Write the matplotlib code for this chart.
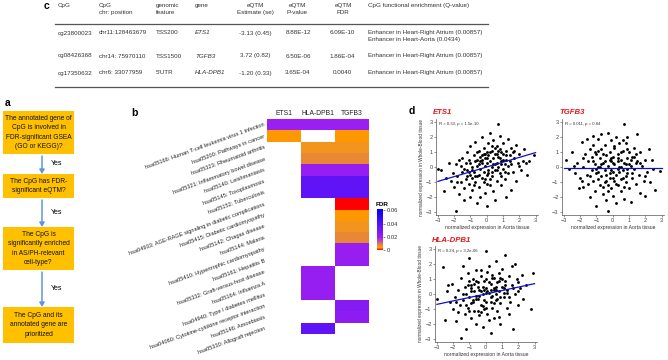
import numpy as np
import matplotlib
matplotlib.use("Agg")
import matplotlib.pyplot as plt
from matplotlib.colors import LinearSegmentedColormap
from matplotlib.patches import Rectangle, FancyArrowPatch

plt.rcParams['font.family'] = ['Liberation Sans', 'DejaVu Sans']

# ---------------- data ----------------
# panel c table
tab_cpg = ["cg23800023", "cg08426368", "cg17350632"]
tab_pos = ["chr11:128463679", "chr14: 75970110", "chr6: 33077959"]
tab_feat = ["TSS200", "TSS1500", "5'UTR"]
tab_gene = ["ETS1", "TGFB3", "HLA-DPB1"]
tab_est = ["-3.13 (0.45)", "3.72 (0.82)", "-1.20 (0.33)"]
tab_p = ["8.88E-12", "6.50E-06", "3.65E-04"]
tab_fdr = ["6.09E-10", "1.86E-04", "0.0040"]
tab_enr = ["Enhancer in Heart-Right Atrium (0.00857)\nEnhancer in Heart-Aorta (0.0434)",
           "Enhancer in Heart-Right Atrium (0.00857)",
           "Enhancer in Heart-Right Atrium (0.00857)"]

# panel a flowchart
flow_steps = ["The annotated gene of\nCpG is involved in\nFDR-significant GSEA\n(GO or KEGG)?",
              "The CpG has FDR-\nsignificant eQTM?",
              "The CpG is\nsignificantly enriched\nin AS/PH-relevant\ncell-type?",
              "The CpG and its\nannotated gene are\nprioritized"]

# panel b heatmap (FDR, nan = not significant)
hm_genes = ["ETS1", "HLA-DPB1", "TGFB3"]
hm_paths = ["hsa05166: Human T-cell leukemia virus 1 infection",
            "hsa05200: Pathways in cancer",
            "hsa05323: Rheumatoid arthritis",
            "hsa05321: Inflammatory bowel disease",
            "hsa05140: Leishmaniasis",
            "hsa05145: Toxoplasmosis",
            "hsa05152: Tuberculosis",
            "hsa04933: AGE-RAGE signaling in diabetic complications",
            "hsa05415: Diabetic cardiomyopathy",
            "hsa05142: Chagas disease",
            "hsa05144: Malaria",
            "hsa05410: Hypertrophic cardiomyopathy",
            "hsa05161: Hepatitis B",
            "hsa05332: Graft-versus-host disease",
            "hsa05164: Influenza A",
            "hsa04940: Type I diabetes mellitus",
            "hsa04060: Cytokine-cytokine receptor interaction",
            "hsa05146: Amoebiasis",
            "hsa05330: Allograft rejection"]
nan = np.nan
hm_ets1 = [0.020, 0.0036, nan, nan, nan, nan, nan, nan, nan, nan, nan, nan, nan, nan, nan, nan, nan, nan, nan]
hm_hla = [0.020, nan, 0.0058, 0.0072, 0.021, 0.036, 0.036, nan, nan, nan, nan, nan, nan,
          0.021, 0.021, 0.021, nan, nan, 0.036]
hm_tgfb3 = [0.020, 0.0036, 0.0058, 0.0072, 0.021, 0.036, 0.036, 0.0002, 0.0036, 0.0058, 0.0072,
            0.021, 0.021, nan, nan, nan, 0.026, 0.024, nan]

# panel d scatter data
ets1_x = [-3.0, -2.6, -2.5, -2.3, -2.2, -2.1, -2.0, -1.9, -1.9, -1.8, -1.7, -1.6, -1.6, -1.5, -1.5, -1.4, -1.4,
          -1.3, -1.3, -1.2, -1.2, -1.1, -1.1, -1.0, -1.0, -1.0, -0.9, -0.9, -0.8, -0.8, -0.7, -0.7, -0.7, -0.6,
          -0.6, -0.5, -0.5, -0.5, -0.4, -0.4, -0.4, -0.3, -0.3, -0.3, -0.2, -0.2, -0.2, -0.1, -0.1, -0.1, 0.0,
          0.0, 0.0, 0.0, 0.1, 0.1, 0.1, 0.2, 0.2, 0.2, 0.3, 0.3, 0.3, 0.4, 0.4, 0.4, 0.5, 0.5, 0.5, 0.6, 0.6,
          0.6, 0.7, 0.7, 0.7, 0.8, 0.8, 0.8, 0.9, 0.9, 1.0, 1.0, 1.0, 1.1, 1.1, 1.2, 1.2, 1.2, 1.3, 1.3, 1.4,
          1.5, 1.5, 1.5, 1.6, 1.7, 1.8, 1.8, 1.9, 2.0, 2.1, 2.2, 2.3, 2.4, 2.5, 2.6, 2.9, -2.8, -1.7, 0.9, 0.2,
          -0.6, 1.6,
          -1.2, -0.9, -0.6, -0.3, 0.0, 0.3, 0.6, 0.9, 1.2, -1.0, -0.7, -0.4, -0.1, 0.2, 0.5, 0.8, 1.1, 1.4,
          -1.4, -0.8, -0.5, -0.2, 0.1, 0.4, 0.7, 1.0, 1.3, -1.1, -0.3, 0.5, 0.0, -0.6, 0.3, 0.9, -0.9, 1.7,
          -1.8, 2.0, 0.6, -0.1]
ets1_y = [-0.1, -1.6, -0.7, 0.3, -0.9, -0.4, -1.3, -2.9, 0.2, -0.6, -1.8, 0.1, -1.0, -0.3, 0.6, -1.4, -2.2,
          0.3, -0.8, -0.2, 1.0, -1.1, 0.5, -0.5, -2.0, 1.4, 0.0, -1.5, 0.8, -0.3, -1.0, 0.4, 1.7, -0.6,
          -2.4, 0.2, 1.1, -1.3, -0.1, 0.7, -2.0, 2.0, -0.7, 0.3, 1.3, -1.0, -0.3, 0.6, -1.7, 0.1, 1.0,
          -0.5, 0.3, -2.6, 1.6, -0.2, 0.8, -1.2, 0.4, 2.3, -0.6, 1.1, 0.0, 0.6, -1.6, 1.8, -0.2, 0.9, -2.2, 0.3, 1.4,
          -0.9, 2.9, 0.0, 0.7, -0.4, 1.2, 2.1, 0.4, -1.2, 0.9, -0.1, 1.6, 0.2, -0.8, -2.0, 1.1, 0.5, -0.4, 1.9, 0.8,
          -1.5, 0.2, 1.3, -0.3, 0.6, 1.5, -0.9, 0.3, 0.9, -0.2, 0.4, 1.2, 0.3, -0.5, 0.4, 0.8, -0.2, 0.5, 1.0, -0.8,
          1.0, 1.0,
          -0.6, -0.2, 0.1, 0.5, 0.6, -0.3, 0.9, 0.2, 0.8, 0.3, -0.6, 0.4, -0.8, 1.0, 0.2, 0.6, -0.3, 0.4,
          -0.1, -1.2, -0.5, 0.9, -0.4, 0.2, 1.1, 0.5, 0.1, -0.3, 0.8, 1.3, -1.1, 0.5, 1.4, -0.6, -0.7, 1.1,
          -1.0, 0.1, -0.2, 0.9]

tgfb3_x = [-2.9, -2.5, -2.7, -2.3, -2.2, -2.1, -2.0, -1.9, -1.8, -1.8, -1.7, -1.6, -1.6, -1.5, -1.5, -1.4, -1.4,
           -1.3, -1.3, -1.2, -1.2, -1.1, -1.1, -1.0, -1.0, -1.0, -0.9, -0.9, -0.8, -0.8, -0.7, -0.7, -0.7, -0.6,
           -0.6, -0.5, -0.5, -0.5, -0.4, -0.4, -0.3, -0.3, -0.3, -0.2, -0.2, -0.1, -0.1, -0.1, 0.0, 0.0, 0.0,
           0.1, 0.1, 0.1, 0.2, 0.2, 0.2, 0.3, 0.3, 0.4, 0.4, 0.5, 0.5, 0.5, 0.6, 0.6, 0.7, 0.7, 0.7, 0.8, 0.8,
           0.9, 0.9, 1.0, 1.0, 1.1, 1.1, 1.2, 1.2, 1.3, 1.3, 1.4, 1.5, 1.5, 1.6, 1.7, 1.7, 1.8, 1.9, 2.0, 2.1,
           2.2, 2.3, 2.4, 2.5, 2.6, 2.9, 2.0, -2.4, -0.2, 0.3, -0.4, 0.8, -0.9, 1.4, -1.9, 0.9, -1.2,
           -1.2, -0.9, -0.6, -0.3, 0.0, 0.3, 0.6, 0.9, 1.2, -1.0, -0.7, -0.4, -0.1, 0.2, 0.5, 0.8, 1.1, 1.4,
           -1.4, -0.8, -0.5, -0.2, 0.1, 0.4, 0.7, 1.0, 1.3, -1.1, -0.3, 0.5, 0.0, -0.6, 0.3, 0.9, -0.9, 1.7,
           -1.8, 2.0, 0.6, -0.1]
tgfb3_y = [0.45, 1.0, -0.1, -0.4, 0.3, -1.4, -0.7, 1.7, 0.0, -1.3, 0.9, -0.5, 1.9, 0.4, -1.1, -2.0, 1.2,
           -0.2, 0.7, -0.9, 1.5, 0.2, -1.6, -2.6, 0.9, -0.4, 1.9, 0.0, -1.2, 0.6, 2.2, -0.6, 1.2, -1.8,
           0.3, -0.2, 1.5, -1.0, 0.8, -2.2, -2.9, 0.1, 2.3, -0.7, 1.0, -1.4, 0.4, 1.8, -0.3, 0.7, -1.9,
           1.3, -0.9, 0.2, 2.0, -0.5, -2.4, 0.9, -1.2, 0.0, 1.6, -0.8, 0.5, -1.6, 1.1, -0.2, 2.9, 0.3, -2.1, -1.0, 1.6,
           0.6, -0.4, -1.4, 1.0, 0.1, -2.3, 0.7, -0.7, 1.3, -0.1, -1.1, 2.2, 0.4, -0.5, 1.0, -1.7, 0.1, -0.9, 0.5, -0.3,
           1.2, -1.0, 0.5, -0.1, -1.5, -0.25, -1.9, 0.1, 0.5, -0.1, -0.5, 0.2, -0.8, 0.9, -0.9, 2.0, 2.1,
           0.4, -0.3, 0.9, -1.2, 0.3, 0.6, -0.7, 1.2, -0.4, -0.1, 0.2, -0.9, 0.6, -1.1, 1.0, -0.6, 0.5, 0.3,
           -0.6, 0.0, 0.4, -0.4, 1.4, -0.3, -1.3, 0.2, 0.7, 1.0, -1.6, 0.0, -0.7, -1.3, 0.4, -0.1, 1.1, 0.3,
           0.6, -0.6, 1.8, -0.2]

hla_x = [-3.0, -2.6, -2.5, -2.3, -2.2, -2.1, -2.0, -1.9, -1.8, -1.7, -1.6, -1.5, -1.5, -1.4, -1.3, -1.3, -1.2,
         -1.2, -1.1, -1.1, -1.0, -1.0, -0.9, -0.9, -0.8, -0.8, -0.7, -0.7, -0.6, -0.6, -0.5, -0.5, -0.4, -0.4,
         -0.3, -0.3, -0.2, -0.2, -0.1, -0.1, 0.0, 0.0, 0.0, 0.1, 0.1, 0.2, 0.2, 0.3, 0.3, 0.3, 0.4, 0.4, 0.5,
         0.5, 0.6, 0.6, 0.7, 0.7, 0.8, 0.8, 0.9, 0.9, 1.0, 1.0, 1.1, 1.2, 1.2, 1.3, 1.3, 1.4, 1.5, 1.6, 1.6,
         1.7, 1.8, 1.9, 2.0, 2.1, 2.2, 2.3, 2.5, 2.8, 2.9, -2.4, -1.7, 0.6, -0.2, 0.4, 1.1, -0.6, 0.2, -1.4,
         1.8, 2.0, -0.9, 0.8, -0.3, 1.4, 0.0, -1.0, 0.5, -0.5,
         -1.2, -0.9, -0.6, -0.3, 0.0, 0.3, 0.6, 0.9, 1.2, -1.0, -0.7, -0.4, -0.1, 0.2, 0.5, 0.8, 1.1, 1.4,
         -1.4, -0.8, -0.5, -0.2, 0.1, 0.4, 0.7, 1.0, 1.3, -1.1, -0.3, 0.5, 0.0, -0.6, 0.3, 0.9, -0.9, 1.7,
         -1.8, 2.0, 0.6, -0.1]
hla_y = [-0.3, 1.8, -1.7, 0.6, -0.5, 0.7, -1.0, -0.2, -1.8, 0.3, -0.7, -2.9, 1.1, -0.4, -1.3, 0.5, -2.3,
         0.0, 1.4, -0.9, -0.2, 2.4, -1.6, 0.6, -0.5, 1.0, -1.1, 0.2, -2.0, 1.6, -0.3, 0.8, -1.4, 0.3,
         -0.7, 1.2, -2.2, 0.0, 0.9, -1.0, 2.9, 0.4, -0.5, 1.5, -1.3, 0.1, 1.9, -2.6, 0.7, -0.2, -0.9, 1.1, 0.3,
         -1.6, 2.2, -0.4, 0.8, -1.1, 0.2, 1.4, -0.6, -2.0, 0.5, 1.7, -0.2, 2.6, 0.9, -0.9, 0.3, 1.2, -0.5, 1.9, 0.6,
         -2.3, 0.0, 1.0, -0.7, 0.4, 1.3, -0.3, 0.6, -1.0, 1.4, 0.2, -1.2, 0.0, 0.5, -0.1, 0.1, -0.1, -1.7, 1.9,
         2.0, 0.2, 0.2, -1.5, 1.6, -1.3, 1.0, 0.9, 1.1, -1.1,
         -0.7, 0.4, -0.3, 0.2, -0.9, 0.3, 0.5, -0.2, 0.6, -1.1, 0.7, -0.1, 0.3, 0.8, -0.6, 0.9, 0.4, -0.2,
         0.0, -0.4, 0.5, -0.8, 0.2, 1.3, -0.3, 1.0, 0.1, 0.6, -1.2, 0.4, 0.1, 0.9, -0.5, 1.1, -0.6, 0.4,
         -0.5, 0.8, 0.3, -0.4]

sc_titles = ["ETS1", "TGFB3", "HLA-DPB1"]
sc_stats = ["R = 0.33, p = 1.5e-10", "R = 0.011, p = 0.84", "R = 0.24, p = 3.2e-06"]
fit_intercept = [0.0, -0.05, 0.0]
fit_slope = [0.32, 0.0, 0.23]

# ---------------- layout helpers ----------------
W, H = 668, 360
fig = plt.figure(figsize=(W / 100, H / 100), dpi=100)


def fx(x):
    return x / W


def fy(y):
    return 1 - y / H


def rect(x0, y0, x1, y1):
    return [x0 / W, 1 - y1 / H, (x1 - x0) / W, (y1 - y0) / H]


def label(x, y, s):
    fig.text(fx(x), fy(y), s, fontsize=7.5, fontweight='bold', ha='left', va='center')


# ---------------- panel c: table ----------------
label(44, 6, 'c')
tc = '#333333'
tfs = 4.5
hdr = [(58, 'CpG', 'left'), (99, 'CpG\nchr: position', 'left'), (156, 'genomic\nfeature', 'left'),
       (195, 'gene', 'left'), (255, 'eQTM\nEstimate (se)', 'center'), (297, 'eQTM\nP-value', 'center'),
       (343, 'eQTM\nFDR', 'center'), (368, 'CpG functional enrichment (Q-value)', 'left')]
for x, s, ha in hdr:
    fig.text(fx(x), fy(3.5), s, fontsize=tfs, color=tc, ha=ha, va='top', linespacing=1.4)
fig.add_artist(plt.Line2D([fx(55), fx(488)], [fy(23.5), fy(23.5)], color='#555555', lw=0.9))
fig.add_artist(plt.Line2D([fx(55), fx(488)], [fy(87), fy(87)], color='#555555', lw=0.9))
row_y = [33, 56, 73]
for i in range(3):
    y = row_y[i]
    fig.text(fx(58), fy(y), tab_cpg[i], fontsize=tfs, color=tc, va='center')
    fig.text(fx(99), fy(y), tab_pos[i], fontsize=tfs, color=tc, va='center')
    fig.text(fx(156), fy(y), tab_feat[i], fontsize=tfs, color=tc, va='center')
    fig.text(fx(195), fy(y), tab_gene[i], fontsize=tfs, color=tc, va='center', style='italic')
    fig.text(fx(255), fy(y), tab_est[i], fontsize=tfs, color=tc, va='center', ha='center')
    fig.text(fx(298), fy(y), tab_p[i], fontsize=tfs, color=tc, va='center', ha='center')
    fig.text(fx(342), fy(y), tab_fdr[i], fontsize=tfs, color=tc, va='center', ha='center')
    fig.text(fx(368), fy(y - 3), tab_enr[i], fontsize=tfs, color=tc, va='top', linespacing=1.4)

# ---------------- panel a: flowchart ----------------
label(5, 103, 'a')
boxes = [(111, 154), (174, 198), (227, 270), (307, 343)]
bx0, bx1 = 3, 74
for (y0, y1), s in zip(boxes, flow_steps):
    fig.add_artist(Rectangle((fx(bx0), fy(y1)), (bx1 - bx0) / W, (y1 - y0) / H,
                             transform=fig.transFigure, facecolor='#FFC000', edgecolor='none'))
    fig.text(fx((bx0 + bx1) / 2), fy((y0 + y1) / 2), s, fontsize=4.8, ha='center', va='center',
             linespacing=1.5, color='#111111')
for k in range(3):
    ya, yb = boxes[k][1] + 2, boxes[k + 1][0]
    fig.add_artist(FancyArrowPatch((fx(42), fy(ya)), (fx(42), fy(yb)), transform=fig.transFigure,
                                   arrowstyle='-|>,head_length=2.5,head_width=1.5', color='#5B9BD5',
                                   lw=1.1, shrinkA=0, shrinkB=0))
    fig.text(fx(51), fy((ya + yb) / 2 - 1), 'Yes', fontsize=5.0, ha='left', va='center')

# ---------------- panel b: heatmap ----------------
label(131, 113, 'b')
cmap = LinearSegmentedColormap.from_list('fdr', [(0.0, '#FF0000'), (0.06, '#FFA500'),
                                                 (0.3, '#A020F0'), (1.0, '#0000FF')])
vmin, vmax = 0.0, 0.062
mat = np.array([hm_ets1, hm_hla, hm_tgfb3]).T
axh = fig.add_axes(rect(267, 119, 369, 334))
mesh = axh.pcolormesh(np.arange(len(hm_genes) + 1), np.arange(len(hm_paths) + 1),
                      np.ma.masked_invalid(mat), cmap=cmap, vmin=vmin, vmax=vmax)
axh.set_ylim(len(hm_paths), 0)
axh.set_xlim(0, len(hm_genes))
for s in axh.spines.values():
    s.set_visible(False)
axh.xaxis.tick_top()
axh.set_xticks(np.arange(len(hm_genes)) + 0.5)
axh.set_xticklabels(hm_genes, fontsize=4.9, color='#222222')
axh.set_yticks(np.arange(len(hm_paths)) + 0.5)
axh.set_yticklabels(hm_paths, fontsize=4.1, rotation=20, ha='right', va='center',
                    rotation_mode='anchor', color='#222222')
axh.tick_params(length=0, pad=1.5)

axc = fig.add_axes(rect(377, 209, 383, 250))
cb = fig.colorbar(mesh, cax=axc, ticks=[0, 0.02, 0.04, 0.06])
cb.outline.set_visible(False)
cb.ax.tick_params(labelsize=4.2, length=1.5, width=0.4, pad=1, colors='#333333')
cb.ax.set_yticklabels(['0', '0.02', '0.04', '0.06'])
fig.text(fx(376), fy(205), 'FDR', fontsize=4.6, fontweight='bold', ha='left', va='center')

# ---------------- panel d: scatter plots ----------------
label(409, 111, 'd')
sc_rects = [rect(436, 119, 538, 215), rect(562, 119, 664, 215), rect(435, 246, 537, 342)]
sc_data = [(ets1_x, ets1_y), (tgfb3_x, tgfb3_y), (hla_x, hla_y)]
title_pos = [(433, 113), (559, 113), (432, 240)]
for k in range(3):
    ax = fig.add_axes(sc_rects[k])
    xs, ys = sc_data[k]
    ax.scatter(xs, ys, s=4.2, color='black', linewidths=0)
    lx = np.array([-3.0, 3.0])
    ax.plot(lx, fit_intercept[k] + fit_slope[k] * lx, color='#1010CC', lw=0.9)
    ax.set_xlim(-3.12, 3.15)
    ax.set_ylim(-3.2, 3.2)
    ax.set_xticks([-3, -2, -1, 0, 1, 2, 3])
    ax.set_yticks([-3, -2, -1, 0, 1, 2, 3])
    for sp in ['top', 'right']:
        ax.spines[sp].set_visible(False)
    for sp in ['left', 'bottom']:
        ax.spines[sp].set_color('#555555')
        ax.spines[sp].set_linewidth(0.5)
    ax.tick_params(labelsize=4.0, length=1.5, width=0.4, pad=1, colors='#444444')
    ax.set_xlabel('normalized expression in Aorta tissue', fontsize=3.6, labelpad=1, color='#333333')
    if k != 1:
        ax.set_ylabel('normalized expression in Whole-Blood tissue', fontsize=3.4, labelpad=1.5,
                      color='#333333')
    ax.text(-2.95, 2.85, sc_stats[k], fontsize=3.1, color='#333333', ha='left', va='center')
    tx, ty = title_pos[k]
    fig.text(fx(tx), fy(ty), sc_titles[k], fontsize=5.6, color='#E5161D', fontweight='bold',
             style='italic', ha='left', va='center')

fig.savefig('out.png', dpi=100)
